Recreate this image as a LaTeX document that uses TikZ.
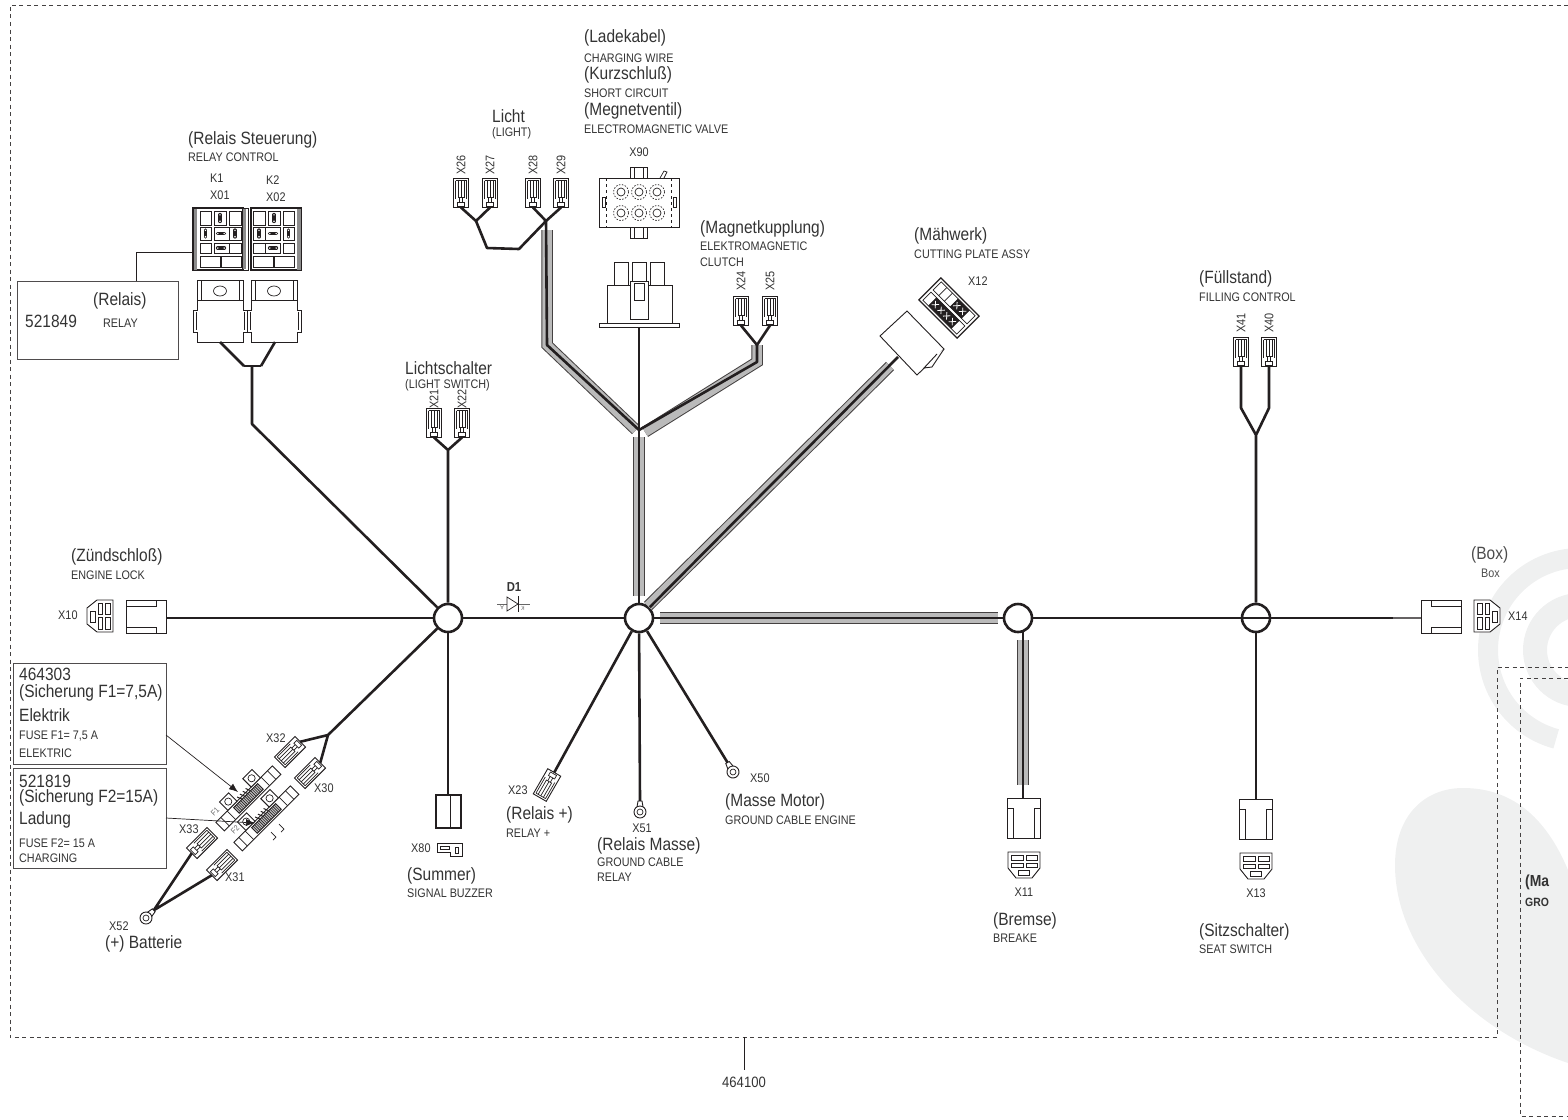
\documentclass[tikz,border=0pt]{standalone}
\usepackage{fontspec}
\setmainfont[FakeStretch=0.87]{Liberation Sans}
\usetikzlibrary{arrows.meta}
\definecolor{ink}{HTML}{231F20}
\definecolor{txt}{HTML}{333333}
\definecolor{wm}{HTML}{EFF0F0}
\tikzset{
  wire/.style={draw=ink,line width=2.6pt,line join=round},
  sheathO/.style={draw=ink!85,line width=11.5pt,line join=miter},
  sheathI/.style={draw=black!27,line width=9.5pt,line join=miter},
  part/.style={draw=ink,line width=.9pt,fill=white,line join=miter},
  thinp/.style={draw=ink,line width=.7pt},
  hub/.style={circle,draw=ink,line width=2.6pt,fill=white,minimum size=28pt,inner sep=0pt},
  big/.style={anchor=west,inner sep=0pt,text=txt,font=\fontsize{17.8}{17.8}\selectfont},
  sm/.style={anchor=west,inner sep=0pt,text=txt,font=\fontsize{12.4}{12.4}\selectfont},
  xl/.style={inner sep=0pt,text=txt,font=\fontsize{12.5}{12.5}\selectfont},
  xlw/.style={xl,anchor=west},
  xlv/.style={xl,rotate=90},
  box/.style={draw=ink!80,line width=1pt,fill=white},
  leader/.style={draw=ink,line width=.7pt},
  frame/.style={draw=ink!85,line width=.7pt,dash pattern=on 4pt off 3.5pt},
}
\newcommand\sheath[1]{\draw[sheathO] #1; \draw[sheathI] #1;}
\newcommand\pinconn[4]{%
\begin{scope}[shift={(#2,#3)},rotate=#4]
\draw[part] (-7.5,-14.5) rectangle (7.5,14.5);
\draw[thinp] (-5.5,-12.5) -- (-5.5,6) (5.5,-12.5) -- (5.5,6) (-5.5,-12.5) -- (5.5,-12.5);
\draw[thinp] (-3,-12.5) -- (-3,4) -- (3,4) -- (3,-12.5) (0,-12.5) -- (0,4);
\draw[thinp] (-1.5,4) -- (-1.5,9) (1.5,4) -- (1.5,9);
\draw[thinp,fill=white] (-3.5,9) rectangle (3.5,13);
\coordinate (#1) at (0,14.5);
\end{scope}}
\newcommand\ringterm[4]{%
\begin{scope}[shift={(#2,#3)},rotate=#4]
\draw[part] (-3,-5) -- (-2,-11) -- (2,-11) -- (3,-5);
\draw[part] (0,0) circle (6);
\draw[thinp] (0,0) circle (3);
\coordinate (#1) at (0,-11);
\end{scope}}
\newcommand\faceF[3]{% x y transform
\begin{scope}[shift={(#1,#2)},#3]
\draw[part] (-13,-16) -- (3,-16) -- (13,-8) -- (13,8) -- (3,16) -- (-13,16) -- cycle;
\draw[thinp] (-10,-13) rectangle (-5,-2) (-2,-13) rectangle (2,-2) (-10,1) rectangle (-5,13) (-2,1) rectangle (2,13) (5,-5) rectangle (10,6);
\end{scope}}
\newcommand\housing[3]{% x y transform; wire on local right
\begin{scope}[shift={(#1,#2)},#3]
\draw[part] (-20,-16.5) rectangle (20,16.5);
\draw[thinp,line width=.9pt] (-20,-10.5) -- (10,-10.5) -- (10,-16.5) (-20,10.5) -- (10,10.5) -- (10,16.5);
\end{scope}}
\newcommand\rpin[3]{%
\begin{scope}[shift={(#1,#2)},rotate=#3]
\draw[draw=ink,line width=3.2pt,line cap=round] (0,-3.5) -- (0,3.5);
\fill[white] (0,-3.2) circle (.8) (0,3.2) circle (.8);
\end{scope}}
\newcommand\relayface[3]{% x y transform
\begin{scope}[shift={(#1,#2)},#3]
\draw[part,line width=1.1pt] (0,0) rectangle (50,62);
\fill[black!45] (.5,.5) rectangle (4,61.5);
\draw[thinp] (7,3) rectangle (18,17) (21,3) rectangle (33,17) (36,3) rectangle (48,17)
  (7,19) rectangle (18,32) (21,19) rectangle (36,32) (36,19) rectangle (48,32)
  (7,35) rectangle (18,45) (21,35) rectangle (36,45) (36,35) rectangle (48,45)
  (7,48) rectangle (27,59) (28,48) rectangle (48,59);
\rpin{27}{10}{0}\rpin{12.5}{25.5}{0}\rpin{42}{25.5}{0}\rpin{28}{25.5}{90}\rpin{28}{40}{90}
\end{scope}}
\newcommand\relaybody[1]{%
\begin{scope}[shift={(#1,0)}]
\draw[part] (197,280) rectangle (243,300);
\draw[thinp] (201,280) -- (201,300) (239,280) -- (239,300);
\draw[thinp] (220,291) ellipse (6.5 and 5);
\draw[part] (197,300) -- (197,310) -- (193,310) -- (193,332) -- (197,332) -- (197,342) -- (243,342) -- (243,332) -- (247,332) -- (247,310) -- (243,310) -- (243,300) -- cycle;
\draw[thinp] (196,312) -- (196,330) (244,312) -- (244,330);
\end{scope}}
\newcommand\fuseholder[2]{%
\begin{scope}[shift={(#1,#2)},rotate=45]
\draw[part] (-40,-4) rectangle (40,8);
\draw[thinp] (-33,-4) -- (-33,8) (-24,-4) -- (-24,8) (24,-4) -- (24,8) (33,-4) -- (33,8);
\draw[part] (-23,-16) rectangle (-10,-4) (10,-16) rectangle (23,-4);
\draw[thinp] (-16.5,-10) circle (3.6) (16.5,-10) circle (3.6);
\draw[part,fill=black!25] (-17,-2) rectangle (17,6);
\foreach \u in {-15,-13,...,15}{\draw[draw=ink,line width=.6pt] (\u,-2) -- (\u,6);}
\foreach \u in {-7,-3,1,5}{\draw[draw=ink,line width=1pt] (\u,-7) -- (\u+2,-2);}
\end{scope}}
\begin{document}
\begin{tikzpicture}[x=1pt,y=-1pt]
\useasboundingbox (0,0) rectangle (1568,1119);
% watermark
\begin{scope}
\clip (0,0) rectangle (1568,1119);
\fill[wm] (1568,1063) .. controls (1470,1030) and (1395,950) .. (1395,865) .. controls (1395,815) and (1425,788) .. (1463,788) .. controls (1510,788) and (1545,815) .. (1568,870) -- cycle;
\draw[wm,line width=20pt] (1580,558) arc[start angle=-90,end angle=-255,radius=92];
\draw[wm,line width=24pt] (1580,605) arc[start angle=-90,end angle=-270,radius=45];
\end{scope}
% frames
\draw[frame] (1568,5) -- (10,5) -- (10,1037) -- (1497,1037) -- (1497,667) -- (1568,667);
\draw[frame] (1568,678) -- (1520,678) -- (1520,1116) -- (1568,1116);
\node[xl,font=\fontsize{15}{15}\selectfont] (partno) at (744,1082) {464100};
\coordinate (partnotop) at (744,1037);
\draw[leader] (partnotop) -- (744,1070);
% hubs and junctions
\node[hub] (hubA) at (448,618) {};
\node[hub] (hubB) at (639,618) {};
\node[hub] (hubC) at (1018,618) {};
\node[hub] (hubD) at (1256,618) {};
\coordinate (jRel) at (252,424);
\coordinate (jRelTop) at (252,366);
\coordinate (jRelL) at (244,366);
\coordinate (jRelR) at (261,366);
\coordinate (jSw) at (448,450);
\coordinate (jFuse) at (328,735);
\coordinate (jB) at (639,430);
\coordinate (jBL) at (636,430);
\coordinate (jBR) at (645,432);
\coordinate (jLicht) at (546,221);
\coordinate (jLichtA) at (476,221);
\coordinate (jFill) at (1256,435);
\coordinate (jClutch) at (757,345);
% sheaths
\sheath{(639,596) -- (639,437)}
\sheath{(547,230) -- (547,345) -- (jBL)}
\sheath{(jClutch) -- (757,362) -- (jBR)}
\sheath{(648,606) -- (890,366)}
\sheath{(660,618) -- (998,618)}
\sheath{(1023,640) -- (1023,785)}
% connector parts
\pinconn{x26}{461}{193}{0}
\pinconn{x27}{490}{193}{0}
\pinconn{x28}{533}{193}{0}
\pinconn{x29}{561}{193}{0}
\pinconn{x21}{434}{423}{0}
\pinconn{x22}{462}{423}{0}
\pinconn{x24}{741}{311}{0}
\pinconn{x25}{770}{311}{0}
\pinconn{x41}{1241}{352}{0}
\pinconn{x40}{1269}{352}{0}
\pinconn{x32}{290}{752}{135}
\pinconn{x30}{310}{773}{135}
\pinconn{x33}{202}{843}{-45}
\pinconn{x31}{222}{865}{-45}
\pinconn{x23}{547}{785}{150}
\ringterm{x52}{146}{918}{-45}
\ringterm{x51}{640}{812}{0}
\ringterm{x50}{733}{772}{30}
% X10, X14
\faceF{100}{616}{xscale=-1}
\faceF{1487}{616}{}
\housing{146}{617}{}
\coordinate (x10w) at (166,618);
\housing{1441}{617}{xscale=-1}
\coordinate (x14w) at (1421,618);
% X11, X13
\housing{1024}{818}{rotate=90}
\coordinate (x11w) at (1023,798);
\faceF{1024}{865}{rotate=-90}
\housing{1256}{819}{rotate=90}
\coordinate (x13w) at (1256,799);
\faceF{1256}{866}{rotate=-90}
% wires
\draw[wire] (x10w) -- (hubA);
\draw[wire] (hubA) -- (jRel) -- (jRelTop);
\draw[wire] (jRelL) -- (jRelR);
\draw[wire] (hubA) -- (jSw) (jSw) -- (x21) (jSw) -- (x22);
\draw[wire] (hubA) -- (jFuse) (jFuse) -- (x32) (jFuse) -- (x30);
\coordinate (x80w) at (448,795);
\draw[wire] (hubA) -- (x80w);
\draw[wire] (hubA) -- (hubB);
\draw[wire] (hubB) -- (jB);
\coordinate (x90w) at (639,327);
\draw[wire] (jB) -- (x90w);
\coordinate (x12w) at (898,357);
\draw[wire] (hubB) -- (x12w);
\draw[wire] (hubB) -- (hubC);
\draw[wire] (hubC) -- (hubD);
\draw[wire] (hubD.west) -- (hubD.east) -- (1393,618);
\draw[draw=ink!70,line width=1.4pt] (1393,618) -- (x14w);
\draw[wire] (hubB) -- (x23);
\draw[wire] (hubB) -- (x51);
\draw[wire] (hubB) -- (x50);
\draw[wire] (1023,632) -- (x11w);
\draw[wire] (hubD) -- (x13w);
\draw[wire] (hubD) -- (jFill) (jFill) -- (1241,408) -- (x41) (jFill) -- (1269,408) -- (x40);
\draw[wire] (x26) -- (jLichtA) (x27) -- (jLichtA);
\draw[wire] (jLichtA) -- (487,248) -- (519,249) -- (jLicht);
\draw[wire] (x28) -- (jLicht) (x29) -- (jLicht);
\draw[wire] (jLicht) -- (547,345) -- (jB);
\draw[wire] (x24) -- (jClutch) (x25) -- (jClutch);
\draw[wire] (jClutch) -- (757,362) -- (jB);
\draw[wire] (x52) -- (x33) (x52) -- (x31);
% relay parts
\relayface{193}{208}{}
\fill[black!45] (242.5,209) rectangle (246,269);
\draw[thinp] (243,208) -- (248,208) -- (248,270) -- (243,270);
\relayface{301}{208}{xscale=-1}
\relaybody{0}
\relaybody{54}
\draw[wire] (220,342) -- (jRelL);
\draw[wire] (jRelR) -- (275,342);
\draw[box] (17,281) rectangle (178,359);
\coordinate (boxtop) at (136,281);
\coordinate (faceleft) at (193,252);
\draw[leader] (boxtop) -- (136,252) -- (faceleft);
% buzzer
\draw[part,line width=1.1pt] (436,795) rectangle (461,828);
\draw[thinp,line width=.9pt] (450,795) -- (450,828);
\draw[part] (437,843) -- (462,843) -- (462,856) -- (450,856) -- (450,852) -- (437,852) -- cycle;
\draw[thinp] (440,846) rectangle (449,849) (455,847) rectangle (458,853);
% X90
\draw[part] (630,167) rectangle (647,178) (630,227) rectangle (647,238);
\draw[thinp] (634,167) -- (634,178) (643,167) -- (643,178) (634,227) -- (634,238) (643,227) -- (643,238);
\draw[thinp] (660,178) -- (664,171) -- (667,172) -- (664,178);
\draw[part] (599,178) rectangle (679,227);
\draw[thinp,dashed] (606,178) -- (606,227) (671,178) -- (671,227);
\draw[part] (602,197) rectangle (605,207) (673,197) rectangle (676,207);
\foreach \px in {621,639,657}{\foreach \py in {192,213}{
  \draw[thinp] (\px,\py) circle (4);
  \draw[thinp,dash pattern=on 1.5pt off 1.5pt] (\px,\py) circle (7.5);
}}
\draw[part] (614,262) rectangle (628,285) (632,262) rectangle (646,285) (650,262) rectangle (664,285);
\draw[part] (607,285) rectangle (672,323);
\draw[part] (630,281) rectangle (648,319);
\draw[thinp] (634,283) rectangle (644,300);
\draw[part] (599,323) rectangle (679,327);
% X12
\draw[part] (907,311) -- (880,336) -- (917,375) -- (944,349) -- cycle;
\draw[part] (944,349) -- (932,367) -- (924,368) -- (937,354);
\begin{scope}[shift={(949,308)},rotate=-45]
\draw[part,line width=1.2pt] (-27,-15.5) rectangle (27,15.5);
\draw[thinp] (-24,-13) rectangle (24,-1.5) (-24,1.5) rectangle (24,13);
\foreach \u in {-16,-8,0,8,16}{\draw[thinp] (\u,-13) -- (\u,-1.5) (\u,1.5) -- (\u,13);}
\fill[ink] (0,-13) rectangle (16,-1.5) (-16,1.5) rectangle (16,13);
\foreach \u in {4,12}{\draw[white,line width=.8pt] (\u-2.5,-10) -- (\u+2.5,-4.5) (\u-2.5,-4.5) -- (\u+2.5,-10);}
\foreach \u in {-12,-4,4,12}{\draw[white,line width=.8pt] (\u-2.5,4.5) -- (\u+2.5,10) (\u-2.5,10) -- (\u+2.5,4.5);}
\end{scope}
% fuse holders
\fuseholder{247}{797}
\fuseholder{265}{817}
\draw[thinp] (279,824) -- (284,829) -- (281,832) (271,832) -- (276,837) -- (273,840);
\node[xl,rotate=45,font=\fontsize{8}{8}\selectfont,text=black!60] (f1) at (215,812) {F1};
\node[xl,rotate=45,font=\fontsize{8}{8}\selectfont,text=black!60] (f2) at (235,830) {F2};
% fuse boxes
\node[box,minimum width=153pt,minimum height=101pt,inner sep=0pt,anchor=north west] (fb1) at (13,663) {};
\node[box,minimum width=153pt,minimum height=100pt,inner sep=0pt,anchor=north west] (fb2) at (13,768) {};
\coordinate (f1tip) at (238,792);
\coordinate (f2tip) at (255,823);
\draw[leader,-{Latex[length=9pt,width=7pt]}] (166,735) -- (f1tip);
\draw[leader,-{Latex[length=9pt,width=7pt]}] (166,818) -- (f2tip);
% diode
\draw[draw=black!60,line width=.7pt] (497,604) -- (530,604);
\draw[thinp,fill=white] (507,597) -- (518,604) -- (507,611) -- cycle;
\draw[thinp] (518,596) -- (518,612);
\node[xl,font=\bfseries\fontsize{13}{13}\selectfont] (d1) at (514,587) {D1};
\node[xl,font=\fontsize{6}{6}\selectfont,text=black!60] (da) at (502,608) {\scalebox{1}[-1]{A}};
\node[xl,font=\fontsize{6}{6}\selectfont,text=black!60] (dk) at (523,608) {\scalebox{-1}[1]{K}};
% labels
\node[big] (t01) at (188,140) {(Relais Steuerung)};
\node[sm] (t02) at (188,157) {RELAY CONTROL};
\node[xlw] (t03) at (210,178) {K1};
\node[xlw] (t04) at (210,195) {X01};
\node[xlw] (t05) at (266,180) {K2};
\node[xlw] (t06) at (266,197) {X02};
\node[big] (t07) at (25,321) {521849};
\node[big] (t08) at (93,301) {(Relais)};
\node[sm] (t09) at (103,323) {RELAY};
\node[big] (t10) at (492,116) {Licht};
\node[sm] (t11) at (492,133) {(LIGHT)};
\node[xlv] (t12) at (461,165) {X26};
\node[xlv] (t13) at (490,165) {X27};
\node[xlv] (t14) at (533,165) {X28};
\node[xlv] (t15) at (561,165) {X29};
\node[big] (t16) at (584,38) {(Ladekabel)};
\node[sm] (t17) at (584,58) {CHARGING WIRE};
\node[big] (t18) at (584,75) {(Kurzschluß)};
\node[sm] (t19) at (584,93) {SHORT CIRCUIT};
\node[big] (t20) at (584,111) {(Megnetventil)};
\node[sm] (t21) at (584,129) {ELECTROMAGNETIC VALVE};
\node[xl] (t22) at (639,152) {X90};
\node[big] (t23) at (700,229) {(Magnetkupplung)};
\node[sm] (t24) at (700,246) {ELEKTROMAGNETIC};
\node[sm] (t25) at (700,262) {CLUTCH};
\node[xlv] (t26) at (741,281) {X24};
\node[xlv] (t27) at (770,281) {X25};
\node[big] (t28) at (914,236) {(Mähwerk)};
\node[sm] (t29) at (914,254) {CUTTING PLATE ASSY};
\node[xlw] (t30) at (968,281) {X12};
\node[big] (t31) at (1199,279) {(Füllstand)};
\node[sm] (t32) at (1199,297) {FILLING CONTROL};
\node[xlv] (t33) at (1241,323) {X41};
\node[xlv] (t34) at (1269,323) {X40};
\node[big] (t35) at (405,368) {Lichtschalter};
\node[sm] (t36) at (405,385) {(LIGHT SWITCH)};
\node[xlv] (t37) at (434,399) {X21};
\node[xlv] (t38) at (462,399) {X22};
\node[big] (t39) at (71,557) {(Zündschloß)};
\node[sm] (t40) at (71,575) {ENGINE LOCK};
\node[xlw] (t41) at (58,615) {X10};
\node[big,text=black!70] (t42) at (1471,555) {(Box)};
\node[sm,text=black!70] (t43) at (1481,573) {Box};
\node[xlw] (t44) at (1508,616) {X14};
\node[big] (t45) at (19,674) {464303};
\node[big] (t46) at (19,693) {(Sicherung F1=7,5A)};
\node[big] (t47) at (19,715) {Elektrik};
\node[sm] (t48) at (19,736) {FUSE F1= 7,5 A};
\node[sm] (t49) at (19,753) {ELEKTRIC};
\node[big] (t50) at (19,781) {521819};
\node[big] (t51) at (19,798) {(Sicherung F2=15A)};
\node[big] (t52) at (19,820) {Ladung};
\node[sm] (t53) at (19,843) {FUSE F2= 15 A};
\node[sm] (t54) at (19,858) {CHARGING};
\node[xlw] (t55) at (266,738) {X32};
\node[xlw] (t56) at (314,788) {X30};
\node[xlw] (t57) at (179,829) {X33};
\node[xlw] (t58) at (225,877) {X31};
\node[xlw] (t59) at (109,926) {X52};
\node[big] (t60) at (105,944) {(+) Batterie};
\node[xlw] (t61) at (411,848) {X80};
\node[big] (t62) at (407,876) {(Summer)};
\node[sm] (t63) at (407,893) {SIGNAL BUZZER};
\node[xlw] (t64) at (508,790) {X23};
\node[big] (t65) at (506,815) {(Relais +)};
\node[sm] (t66) at (506,833) {RELAY +};
\node[xl] (t67) at (642,828) {X51};
\node[big] (t68) at (597,846) {(Relais Masse)};
\node[sm] (t69) at (597,862) {GROUND CABLE};
\node[sm] (t70) at (597,877) {RELAY};
\node[xlw] (t71) at (750,778) {X50};
\node[big] (t72) at (725,802) {(Masse Motor)};
\node[sm] (t73) at (725,820) {GROUND CABLE ENGINE};
\node[xl] (t74) at (1024,892) {X11};
\node[big] (t75) at (993,921) {(Bremse)};
\node[sm] (t76) at (993,938) {BREAKE};
\node[xl] (t77) at (1256,893) {X13};
\node[big] (t78) at (1199,932) {(Sitzschalter)};
\node[sm] (t79) at (1199,949) {SEAT SWITCH};
\node[big,font=\bfseries\fontsize{16}{16}\selectfont] (t80) at (1525,882) {(Ma};
\node[sm,font=\bfseries\fontsize{12}{12}\selectfont] (t81) at (1525,902) {GRO};
\end{tikzpicture}
\end{document}
